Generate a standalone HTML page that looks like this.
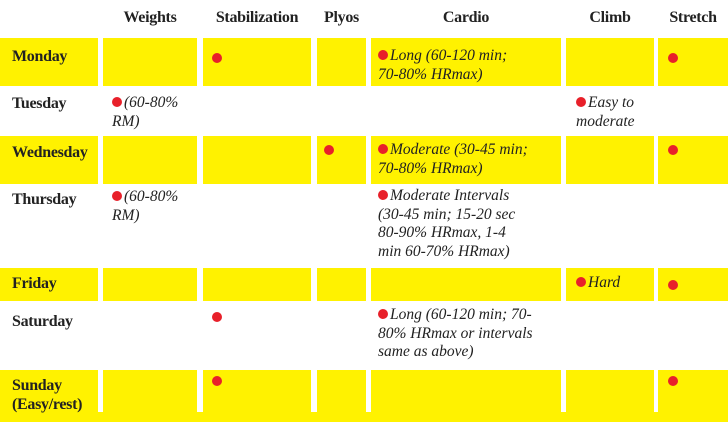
<!DOCTYPE html>
<html><head><meta charset="utf-8"><style>
body{margin:0;width:728px;height:422px;background:#fff;position:relative;overflow:hidden;font-family:"Liberation Serif","DejaVu Serif",serif;}
.c{position:absolute;background:#fff200;}
.h{position:absolute;top:9px;font-weight:bold;font-size:16px;color:#222;letter-spacing:-0.3px;text-align:center;}
.d{position:absolute;left:12px;font-weight:bold;font-size:16px;color:#222;letter-spacing:-0.3px;line-height:19px;}
.t{position:absolute;font-style:italic;font-size:15.5px;color:#222;line-height:18.5px;white-space:nowrap;}
.dot{display:inline-block;width:10px;height:10px;border-radius:50%;background:#e8202a;margin-right:2px;vertical-align:0px;}
.p{position:absolute;width:10px;height:10px;border-radius:50%;background:#e8202a;}
</style></head><body>
<div class="c" style="left:0;top:412px;width:728px;height:10px"></div>
<div id="cells"></div>
<div class="h" style="left:103px;width:94px">Weights</div>
<div class="h" style="left:203px;width:108px">Stabilization</div>
<div class="h" style="left:317px;width:49px">Plyos</div>
<div class="h" style="left:371px;width:190px">Cardio</div>
<div class="h" style="left:566px;width:88px">Climb</div>
<div class="h" style="left:658px;width:70px">Stretch</div>

<div class="d" style="top:47px">Monday</div>
<div class="d" style="top:94px">Tuesday</div>
<div class="d" style="top:143px">Wednesday</div>
<div class="d" style="top:190px">Thursday</div>
<div class="d" style="top:274px">Friday</div>
<div class="d" style="top:312px">Saturday</div>
<div class="d" style="top:376px">Sunday<br>(Easy/rest)</div>

<div class="p" style="left:212px;top:53px"></div>
<div class="t" style="left:378px;top:47px"><span class="dot"></span>Long (60-120 min;<br>70-80% HRmax)</div>
<div class="p" style="left:668px;top:53px"></div>

<div class="t" style="left:112px;top:94px"><span class="dot"></span>(60-80%<br>RM)</div>
<div class="t" style="left:576px;top:94px"><span class="dot"></span>Easy to<br>moderate</div>

<div class="p" style="left:324px;top:145px"></div>
<div class="t" style="left:378px;top:141px"><span class="dot"></span>Moderate (30-45 min;<br>70-80% HRmax)</div>
<div class="p" style="left:668px;top:145px"></div>

<div class="t" style="left:112px;top:188px"><span class="dot"></span>(60-80%<br>RM)</div>
<div class="t" style="left:378px;top:187px"><span class="dot"></span>Moderate Intervals<br>(30-45 min; 15-20 sec<br>80-90% HRmax, 1-4<br>min 60-70% HRmax)</div>

<div class="t" style="left:576px;top:274px"><span class="dot"></span>Hard</div>
<div class="p" style="left:668px;top:280px"></div>

<div class="p" style="left:212px;top:312px"></div>
<div class="t" style="left:378px;top:306px"><span class="dot"></span>Long (60-120 min; 70-<br>80% HRmax or intervals<br>same as above)</div>

<div class="p" style="left:212px;top:376px"></div>
<div class="p" style="left:668px;top:376px"></div>

<script>
const cols=[[0,98],[103,197],[203,311],[317,366],[371,561],[566,654],[658,728]];
const rows=[[38,86],[136,184],[268,301],[370,413]];
const names=['monday','wednesday','friday','sunday'];
const host=document.getElementById('cells');
rows.forEach((r,i)=>{cols.forEach((c,j)=>{
 const el=document.createElement('div');
 el.className='c';
 
 
 el.style.cssText='left:'+c[0]+'px;top:'+r[0]+'px;width:'+(c[1]-c[0])+'px;height:'+(r[1]-r[0])+'px';
 host.appendChild(el);
});});
</script>
</body></html>
